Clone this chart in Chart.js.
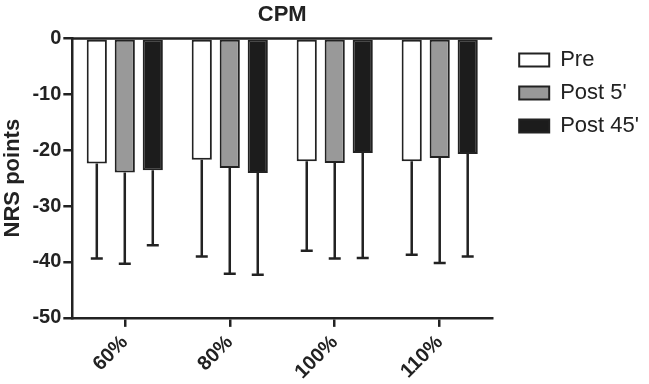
<!DOCTYPE html>
<html>
<head>
<meta charset="utf-8">
<script src="https://cdn.jsdelivr.net/npm/chart.js@4/dist/chart.umd.min.js"></script>
<style>
  html, body { margin: 0; padding: 0; background: #fff; }
  #wrap { width: 649px; height: 384px; position: relative; }
</style>
</head>
<body>
<div id="wrap"><canvas id="cpmChart"></canvas></div>
<script>
// Stimulus intensity groups
const categories = ['60%', '80%', '100%', '110%'];

// Mean NRS change per session
const preMeans    = [-22.4, -21.7, -22.0, -22.0];
const post5Means  = [-24.0, -23.2, -22.3, -21.4];
const post45Means = [-23.6, -24.1, -20.5, -20.7];

// Lower end of the error bars (mean - SD)
const preLower    = [-39.4, -39.0, -38.0, -38.7];
const post5Lower  = [-40.3, -42.1, -39.4, -40.2];
const post45Lower = [-37.0, -42.3, -39.3, -39.0];

const yTicks = [0, -10, -20, -30, -40, -50];

const ink = '#222222';
const fontFam = '"Liberation Sans", Arial, Helvetica, sans-serif';

const lowerEnds = [preLower, post5Lower, post45Lower];

// whiskers below each bar plus the zero baseline
const errorBars = {
  id: 'errorBars',
  afterDatasetsDraw(chart) {
    const { ctx, chartArea, scales } = chart;
    ctx.save();
    ctx.strokeStyle = ink;
    ctx.lineWidth = 2.5;
    ctx.lineCap = 'butt';
    chart.data.datasets.forEach((ds, i) => {
      const meta = chart.getDatasetMeta(i);
      if (meta.hidden) return;
      meta.data.forEach((bar, j) => {
        const yEnd = scales.y.getPixelForValue(lowerEnds[i][j]);
        ctx.beginPath();
        ctx.moveTo(bar.x, bar.y);
        ctx.lineTo(bar.x, yEnd);
        ctx.moveTo(bar.x - 6, yEnd);
        ctx.lineTo(bar.x + 6, yEnd);
        ctx.stroke();
      });
    });
    const y0 = scales.y.getPixelForValue(0);
    ctx.beginPath();
    ctx.moveTo(chartArea.left, y0);
    ctx.lineTo(chartArea.right, y0);
    ctx.stroke();
    ctx.restore();
  }
};

const barStyle = { borderColor: ink, borderWidth: 2, borderSkipped: false };

new Chart(document.getElementById('cpmChart'), {
  type: 'bar',
  data: {
    labels: categories,
    datasets: [
      { label: 'Pre', data: preMeans, backgroundColor: '#ffffff', ...barStyle },
      { label: "Post 5'", data: post5Means, backgroundColor: '#999999', ...barStyle },
      { label: "Post 45'", data: post45Means, backgroundColor: '#1c1c1c', ...barStyle }
    ]
  },
  plugins: [errorBars],
  options: {
    responsive: true,
    maintainAspectRatio: false,
    animation: false,
    layout: { padding: { left: 0, right: 0, top: 2, bottom: -4 } },
    datasets: { bar: { categoryPercentage: 0.8, barPercentage: 0.72 } },
    plugins: {
      title: {
        display: true,
        fullSize: false,
        text: 'CPM',
        color: ink,
        font: { family: fontFam, size: 22, weight: 'bold' },
        padding: { top: 0, bottom: 10 }
      },
      legend: {
        position: 'right',
        align: 'start',
        maxWidth: 170,
        title: { display: true, text: ' ', font: { size: 10 }, padding: { top: 0, bottom: 24 } },
        labels: {
          color: ink,
          boxWidth: 30,
          boxHeight: 13,
          padding: 11,
          font: { family: fontFam, size: 22 }
        }
      },
      tooltip: { enabled: false }
    },
    scales: {
      x: {
        grid: { display: true, drawOnChartArea: false, offset: false, color: ink, lineWidth: 2.5, tickLength: 9 },
        border: { color: ink, width: 2.5 },
        ticks: {
          color: ink,
          minRotation: 45,
          maxRotation: 45,
          padding: 4,
          font: { family: fontFam, size: 20, weight: 'bold' }
        }
      },
      y: {
        min: -50,
        max: 0,
        afterBuildTicks(axis) { axis.ticks = yTicks.map(v => ({ value: v })); },
        grid: { display: true, drawOnChartArea: false, color: ink, lineWidth: 2.5, tickLength: 9 },
        border: { color: ink, width: 2.5 },
        ticks: {
          color: ink,
          padding: 2,
          font: { family: fontFam, size: 20, weight: 'bold' }
        },
        title: {
          display: true,
          text: 'NRS points',
          color: ink,
          padding: { top: 0, bottom: 4 },
          font: { family: fontFam, size: 22, weight: 'bold' }
        }
      },
      // empty spacer between the plot and the legend
      gap: {
        type: 'linear',
        position: 'right',
        display: true,
        grid: { display: false },
        border: { display: false },
        ticks: { display: false },
        afterFit(axis) { axis.width = 16; }
      }
    }
  }
});
</script>
</body>
</html>
